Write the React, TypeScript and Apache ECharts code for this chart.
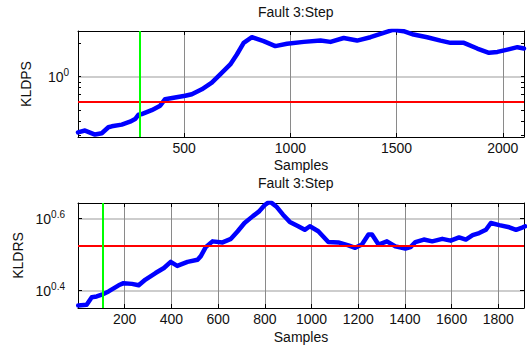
import { useEffect, useRef } from 'react';
import * as echarts from 'echarts';

// KLDPS statistic (upper panel)
const kldpsSamples = [0, 33, 80, 112, 143, 159, 206, 245, 269, 285, 300, 347, 387, 410, 457, 505, 536, 583, 630, 672, 717, 748, 780, 819, 874, 929, 984, 1063, 1142, 1189, 1251, 1314, 1377, 1439, 1486, 1533, 1580, 1644, 1707, 1754, 1817, 1880, 1935, 1975, 2022, 2069, 2100];
const kldpsValues = [0.319, 0.331, 0.305, 0.313, 0.354, 0.361, 0.374, 0.397, 0.419, 0.458, 0.464, 0.503, 0.551, 0.63, 0.652, 0.675, 0.697, 0.772, 0.885, 1.06, 1.285, 1.575, 2.0, 2.245, 2.07, 1.87, 1.96, 2.04, 2.095, 2.04, 2.21, 2.095, 2.245, 2.45, 2.62, 2.54, 2.37, 2.245, 2.095, 2.0, 2.0, 1.78, 1.63, 1.66, 1.74, 1.83, 1.78];
const kldpsLimit = 0.6;
const kldpsFaultStart = 290;

// KLDRS statistic (lower panel)
const kldrsSamples = [1, 37, 59, 80, 102, 131, 174, 195, 231, 260, 289, 332, 368, 397, 425, 469, 512, 526, 547, 576, 619, 655, 684, 713, 749, 777, 799, 821, 849, 878, 907, 943, 971, 993, 1029, 1072, 1115, 1158, 1187, 1216, 1244, 1259, 1287, 1323, 1359, 1402, 1424, 1445, 1481, 1517, 1560, 1596, 1632, 1661, 1690, 1718, 1747, 1768, 1804, 1847, 1876, 1905, 1915];
const kldrsValues = [2.286, 2.296, 2.41, 2.421, 2.449, 2.5, 2.6, 2.636, 2.624, 2.6, 2.698, 2.812, 2.904, 3.02, 2.944, 3.02, 3.062, 3.133, 3.319, 3.443, 3.42, 3.499, 3.673, 3.873, 4.046, 4.178, 4.335, 4.446, 4.305, 4.083, 3.899, 3.793, 3.707, 3.793, 3.673, 3.428, 3.42, 3.357, 3.304, 3.373, 3.597, 3.597, 3.373, 3.443, 3.334, 3.289, 3.319, 3.428, 3.483, 3.443, 3.499, 3.459, 3.532, 3.483, 3.581, 3.631, 3.707, 3.873, 3.819, 3.767, 3.707, 3.767, 3.793];
const kldrsLimit = 3.35;
const kldrsFaultStart = 105;

const panelTitle = 'Fault 3:Step';
const xName = 'Samples';
const topTickValues = [0.3, 0.4, 0.5, 0.6, 0.7, 0.8, 0.9, 1, 2];
const topLabelValues = [1];
const bottomTickValues = [Math.pow(10, 0.4), Math.pow(10, 0.6)];

const FONT = 'Liberation Sans, Arial, Helvetica, sans-serif';
const TEXT = '#111';
const FS = 14;

const powerLabel = (v: number) => {
  const e = Math.round(Math.log10(v) * 10) / 10;
  return `{b|10}{s|${e}}`;
};

const labelRich = {
  b: { fontSize: FS, color: TEXT, fontFamily: FONT },
  s: { fontSize: 10, color: TEXT, fontFamily: FONT, padding: [0, 0, 9, 0] },
};

const boxLine = { show: true, onZero: false, lineStyle: { color: '#000', width: 1 } };
const inTick = (len: number, values?: number[]) => ({
  show: true,
  inside: true,
  length: len,
  lineStyle: { color: '#000', width: 1 },
  ...(values ? { customValues: values } : {}),
});

const traceStyle = { color: '#0000ff', width: 4.5, cap: 'round', join: 'round' };

export default function App() {
  const ref = useRef<HTMLDivElement>(null);

  useEffect(() => {
    if (!ref.current) return;
    const chart = echarts.init(ref.current, undefined, { renderer: 'svg' });

    const xBottom = (grid: number, max: number, interval: number, nameGap: number) => ({
      type: 'value',
      gridIndex: grid,
      position: 'bottom',
      min: 0,
      max,
      interval,
      axisLine: boxLine,
      axisTick: inTick(4),
      axisLabel: {
        showMinLabel: false,
        showMaxLabel: false,
        margin: 4,
        fontSize: FS,
        color: TEXT,
        fontFamily: FONT,
        formatter: (v: number) => String(v),
      },
      splitLine: { show: true, lineStyle: { color: '#8a8a8a', width: 1 } },
      name: xName,
      nameLocation: 'middle',
      nameGap,
      nameTextStyle: { fontSize: FS, color: TEXT, fontFamily: FONT },
    });
    const xTop = (grid: number, max: number, interval: number) => ({
      type: 'value',
      gridIndex: grid,
      position: 'top',
      min: 0,
      max,
      interval,
      axisLine: boxLine,
      axisTick: inTick(4),
      axisLabel: { show: false },
      splitLine: { show: false },
    });

    const titleStyle = { fontSize: FS, fontWeight: 'normal', color: TEXT, fontFamily: FONT };

    const option: any = {
      animation: false,
      backgroundColor: '#fff',
      title: [
        { text: panelTitle, left: 253, top: 0, textStyle: titleStyle },
        { text: panelTitle, left: 253, top: 171, textStyle: titleStyle },
      ],
      grid: [
        { left: 78, right: 3, top: 31, height: 106 },
        { left: 78, right: 3, top: 203, height: 105 },
      ],
      xAxis: [
        xBottom(0, 2100, 500, 21),
        xTop(0, 2100, 500),
        xBottom(1, 1910, 200, 22),
        xTop(1, 1910, 200),
      ],
      yAxis: [
        {
          type: 'log',
          gridIndex: 0,
          position: 'left',
          min: 0.29,
          max: 2.55,
          axisLine: boxLine,
          axisTick: inTick(3, topTickValues),
          axisLabel: {
            customValues: topLabelValues,
            formatter: powerLabel,
            rich: labelRich,
            margin: 9,
          },
          splitLine: { show: false },
          name: 'KLDPS',
          nameLocation: 'middle',
          nameGap: 45,
          nameTextStyle: { fontSize: FS, color: TEXT, fontFamily: FONT },
        },
        {
          type: 'log',
          gridIndex: 0,
          position: 'right',
          min: 0.29,
          max: 2.55,
          axisLine: boxLine,
          axisTick: inTick(3, topTickValues),
          axisLabel: { show: false },
          splitLine: { show: false },
        },
        {
          type: 'log',
          gridIndex: 0,
          position: 'left',
          min: 0.29,
          max: 2.55,
          axisLine: { show: false },
          axisTick: { show: false, customValues: topLabelValues },
          axisLabel: { show: false, customValues: topLabelValues },
          splitLine: { show: true, lineStyle: { color: '#bdbdbd', width: 1.5 } },
        },
        {
          type: 'log',
          gridIndex: 1,
          position: 'left',
          min: 2.249,
          max: 4.4,
          axisLine: boxLine,
          axisTick: inTick(4, bottomTickValues),
          axisLabel: {
            customValues: bottomTickValues,
            formatter: powerLabel,
            rich: labelRich,
            margin: 13,
          },
          splitLine: { show: true, lineStyle: { color: '#bdbdbd', width: 1.5 } },
          name: 'KLDRS',
          nameLocation: 'middle',
          nameGap: 51,
          nameTextStyle: { fontSize: FS, color: TEXT, fontFamily: FONT },
        },
        {
          type: 'log',
          gridIndex: 1,
          position: 'right',
          min: 2.249,
          max: 4.4,
          axisLine: boxLine,
          axisTick: inTick(4, bottomTickValues),
          axisLabel: { show: false },
          splitLine: { show: false },
        },
      ],
      series: [
        {
          type: 'line',
          xAxisIndex: 0,
          yAxisIndex: 0,
          data: kldpsSamples.map((s, i) => [s, kldpsValues[i]]),
          showSymbol: false,
          lineStyle: traceStyle,
          itemStyle: { color: '#0000ff' },
          z: 3,
        },
        {
          type: 'line',
          xAxisIndex: 0,
          yAxisIndex: 0,
          data: [],
          z: 4,
          markLine: {
            silent: true,
            symbol: 'none',
            label: { show: false },
            data: [
              { yAxis: kldpsLimit, lineStyle: { color: '#ff0000', width: 2, type: 'solid' } },
              { xAxis: kldpsFaultStart, lineStyle: { color: '#00ff00', width: 2, type: 'solid' } },
            ],
          },
        },
        {
          type: 'line',
          xAxisIndex: 2,
          yAxisIndex: 3,
          data: kldrsSamples.map((s, i) => [s, kldrsValues[i]]),
          showSymbol: false,
          lineStyle: traceStyle,
          itemStyle: { color: '#0000ff' },
          z: 3,
        },
        {
          type: 'line',
          xAxisIndex: 2,
          yAxisIndex: 3,
          data: [],
          z: 4,
          markLine: {
            silent: true,
            symbol: 'none',
            label: { show: false },
            data: [
              { yAxis: kldrsLimit, lineStyle: { color: '#ff0000', width: 2, type: 'solid' } },
              { xAxis: kldrsFaultStart, lineStyle: { color: '#00ff00', width: 2, type: 'solid' } },
            ],
          },
        },
      ],
    };

    chart.setOption(option);
    return () => chart.dispose();
  }, []);

  return (
    <div
      ref={ref}
      style={{ position: 'absolute', left: 0, top: 0, width: 527, height: 347 }}
    />
  );
}
